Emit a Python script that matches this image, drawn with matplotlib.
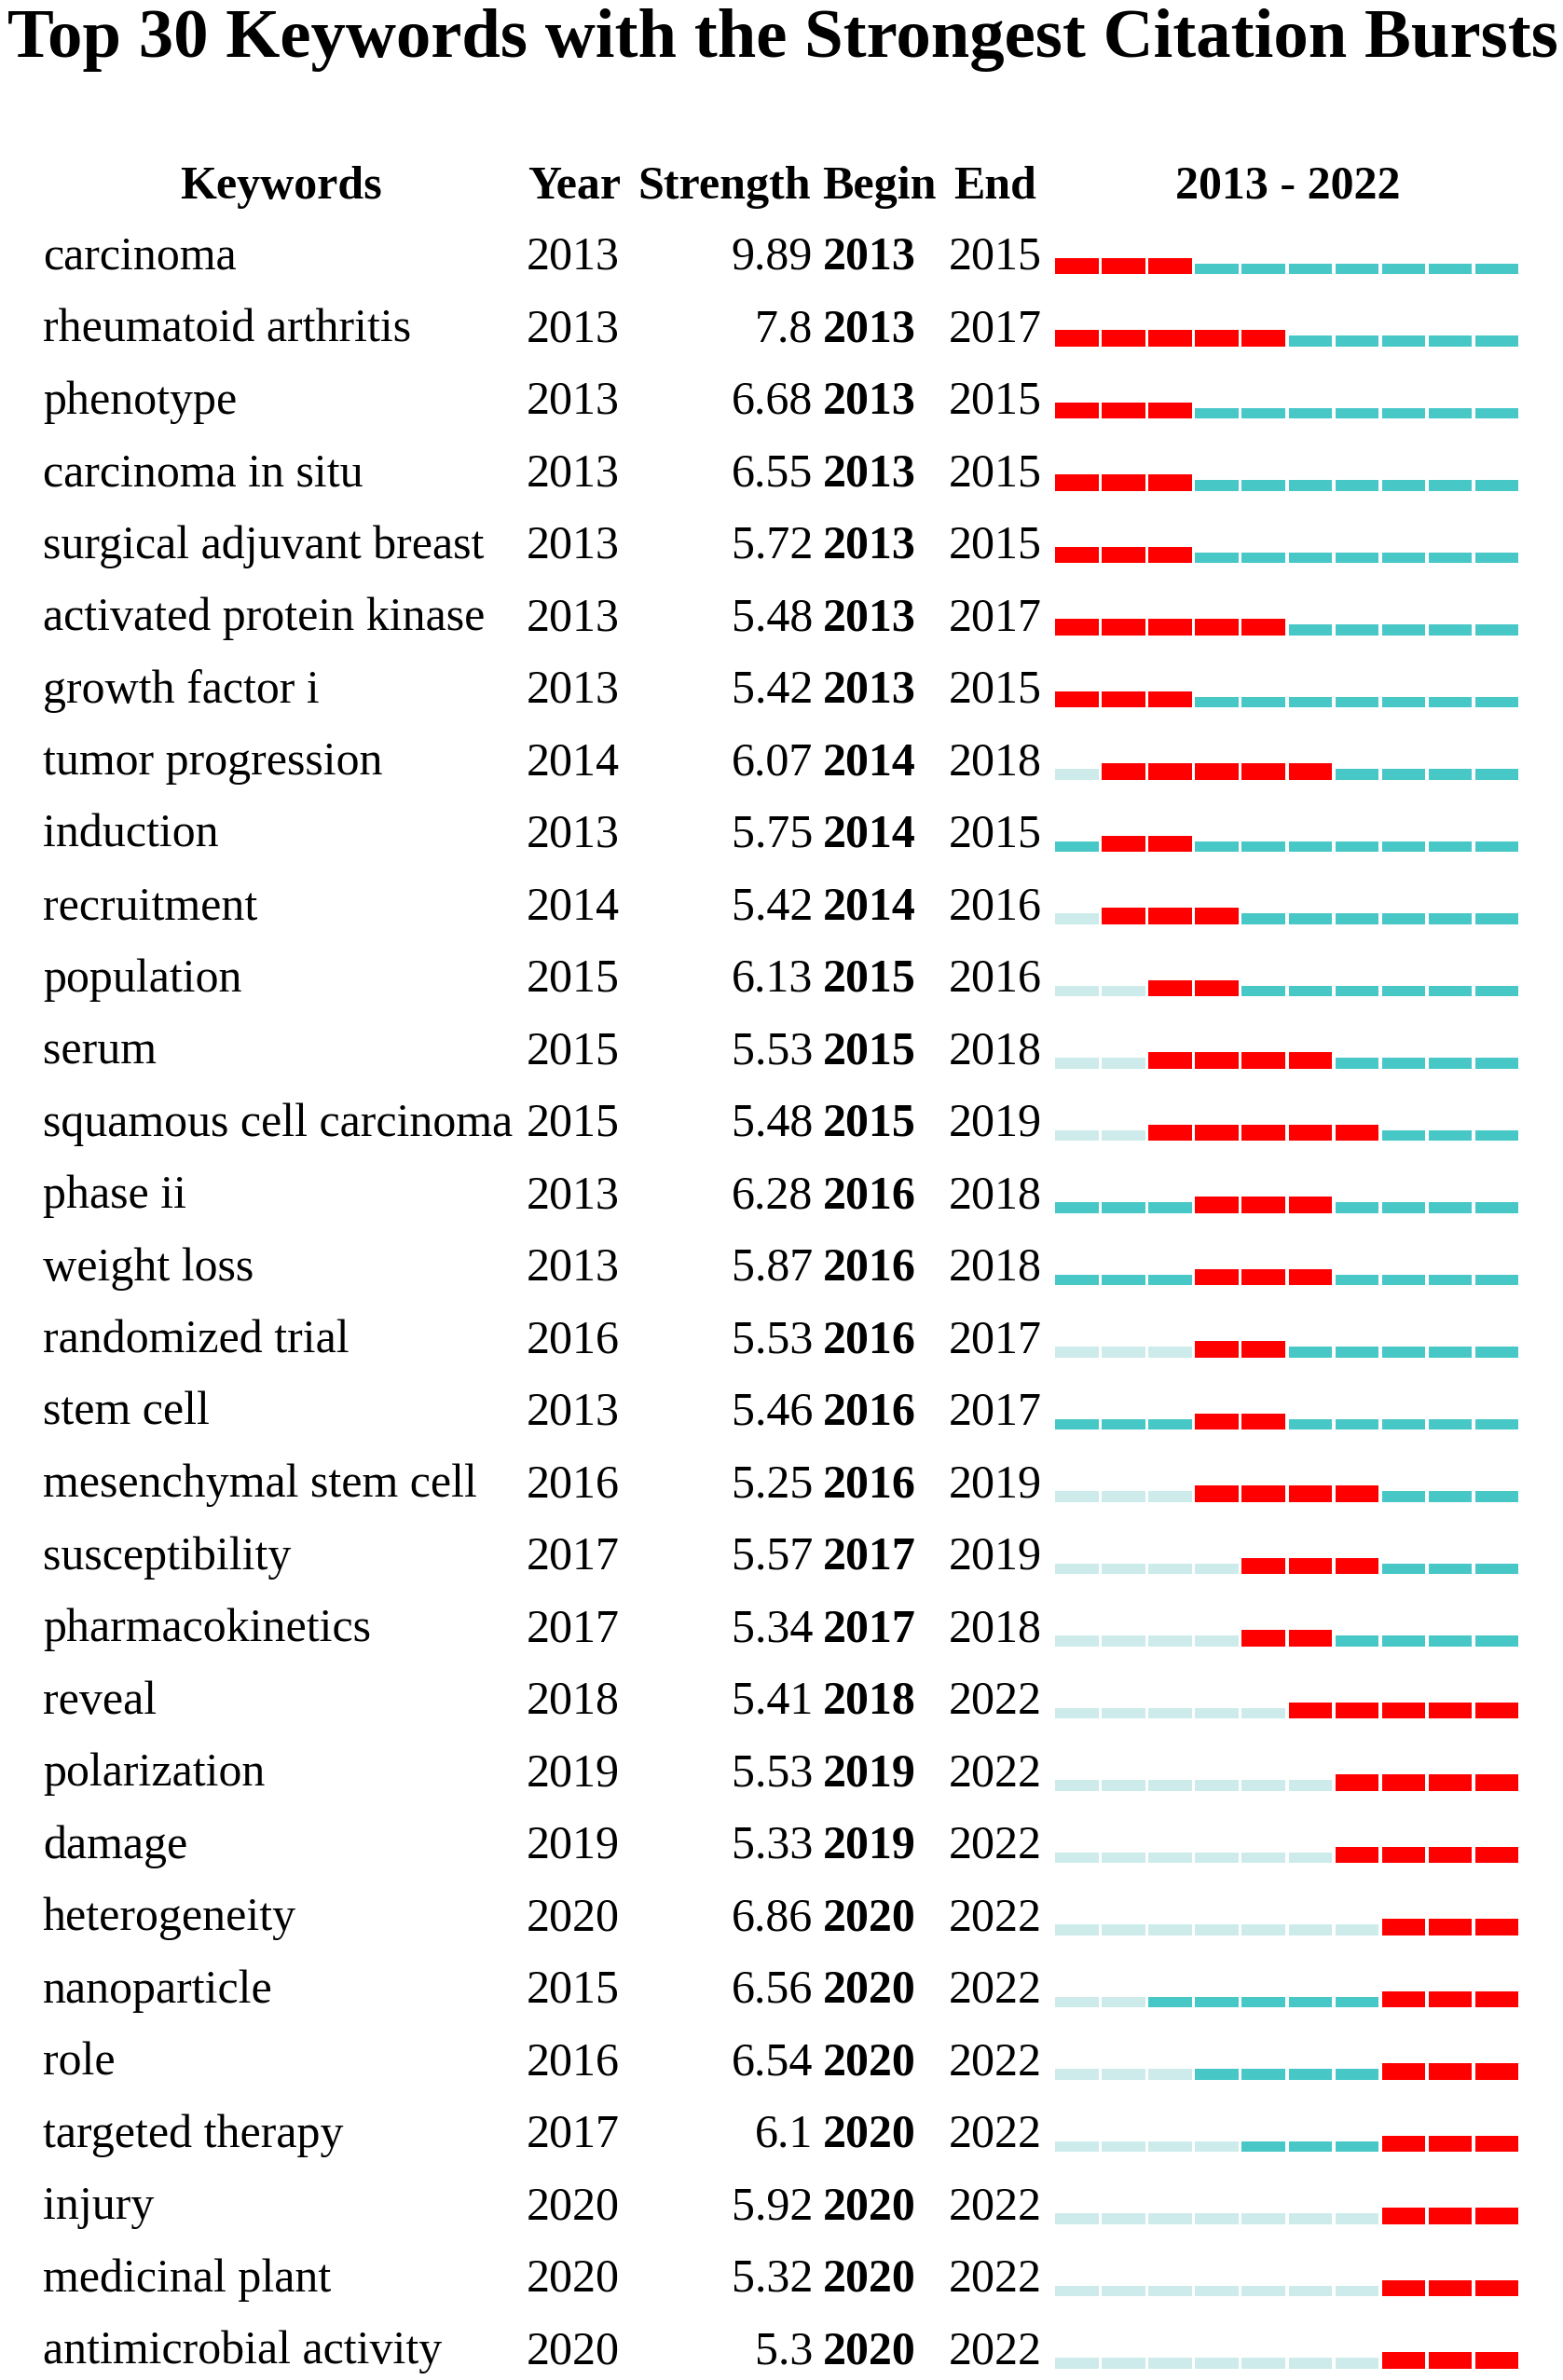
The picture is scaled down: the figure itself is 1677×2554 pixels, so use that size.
import matplotlib
matplotlib.use("Agg")
import matplotlib.pyplot as plt

keywords = ["carcinoma", "rheumatoid arthritis", "phenotype", "carcinoma in situ",
            "surgical adjuvant breast", "activated protein kinase", "growth factor i",
            "tumor progression", "induction", "recruitment", "population", "serum",
            "squamous cell carcinoma", "phase ii", "weight loss", "randomized trial",
            "stem cell", "mesenchymal stem cell", "susceptibility", "pharmacokinetics",
            "reveal", "polarization", "damage", "heterogeneity", "nanoparticle", "role",
            "targeted therapy", "injury", "medicinal plant", "antimicrobial activity"]
first_year = [2013, 2013, 2013, 2013, 2013, 2013, 2013, 2014, 2013, 2014,
              2015, 2015, 2015, 2013, 2013, 2016, 2013, 2016, 2017, 2017,
              2018, 2019, 2019, 2020, 2015, 2016, 2017, 2020, 2020, 2020]
strength = ["9.89", "7.8", "6.68", "6.55", "5.72", "5.48", "5.42", "6.07", "5.75", "5.42",
            "6.13", "5.53", "5.48", "6.28", "5.87", "5.53", "5.46", "5.25", "5.57", "5.34",
            "5.41", "5.53", "5.33", "6.86", "6.56", "6.54", "6.1", "5.92", "5.32", "5.3"]
begin = [2013, 2013, 2013, 2013, 2013, 2013, 2013, 2014, 2014, 2014,
         2015, 2015, 2015, 2016, 2016, 2016, 2016, 2016, 2017, 2017,
         2018, 2019, 2019, 2020, 2020, 2020, 2020, 2020, 2020, 2020]
end = [2015, 2017, 2015, 2015, 2015, 2017, 2015, 2018, 2015, 2016,
       2016, 2018, 2019, 2018, 2018, 2017, 2017, 2019, 2019, 2018,
       2022, 2022, 2022, 2022, 2022, 2022, 2022, 2022, 2022, 2022]
years = list(range(2013, 2023))
headers = ["Keywords", "Year", "Strength", "Begin", "End"]
title = "Top 30 Keywords with the Strongest Citation Bursts"

W, H = 1677, 2554
FONT = "Liberation Serif"
RED = "#FF0000"
TEAL = "#48C7C7"
LIGHT = "#CDEBEB"

fig = plt.figure(figsize=(W / 100, H / 100), dpi=100)

# row units: baseline of row r sits at pixel 289 + 77.5 r
def prow(p):
    return (p - 289.0) / 77.5

ylims = (prow(H), prow(0))

ax = fig.add_axes([0, 0, 1, 1])
ax.set_xlim(0, W)
ax.set_ylim(*ylims)
ax.axis("off")

fs = 36
# title fitted to the width
t = ax.text(840, prow(61), title, ha="center", va="baseline", fontsize=60,
            fontweight="bold", family=FONT)
fig.canvas.draw()
bb = t.get_window_extent()
t.set_fontsize(60 * 1664.0 / bb.width)

hy = prow(213)
ax.text(302, hy, headers[0], ha="center", va="baseline", fontsize=fs, fontweight="bold", family=FONT)
ax.text(566, hy, headers[1], ha="left", va="baseline", fontsize=fs, fontweight="bold", family=FONT)
ax.text(684, hy, headers[2], ha="left", va="baseline", fontsize=fs, fontweight="bold", family=FONT)
ax.text(882, hy, headers[3], ha="left", va="baseline", fontsize=fs, fontweight="bold", family=FONT)
ax.text(1023, hy, headers[4], ha="left", va="baseline", fontsize=fs, fontweight="bold", family=FONT)
ax.text(1382, hy, f"{years[0]} - {years[-1]}", ha="center", va="baseline", fontsize=fs,
        fontweight="bold", family=FONT)

for r, kw in enumerate(keywords):
    ax.text(46, r, kw, ha="left", va="baseline", fontsize=fs, family=FONT)
    ax.text(565, r, str(first_year[r]), ha="left", va="baseline", fontsize=fs, family=FONT)
    ax.text(872, r, strength[r], ha="right", va="baseline", fontsize=fs, family=FONT)
    ax.text(883, r, str(begin[r]), ha="left", va="baseline", fontsize=fs, fontweight="bold", family=FONT)
    ax.text(1018, r, str(end[r]), ha="left", va="baseline", fontsize=fs, family=FONT)

# burst bars on a year axis
x0, x1 = 1132, 1633
bx = fig.add_axes([x0 / W, 0, (x1 - x0) / W, 1])
bx.set_xlim(years[0], years[-1] + 1)
bx.set_ylim(*ylims)
bx.axis("off")
off = 5.5 / 77.5
h_red = 17.5 / 77.5
h_thin = 11.5 / 77.5
for r in range(len(keywords)):
    for yr in years:
        if begin[r] <= yr <= end[r]:
            c, h = RED, h_red
        elif yr >= first_year[r]:
            c, h = TEAL, h_thin
        else:
            c, h = LIGHT, h_thin
        bx.bar(yr, -h, bottom=r + off, width=0.93, align="edge", color=c, linewidth=0)

fig.savefig("out.png", dpi=100, facecolor="white")
